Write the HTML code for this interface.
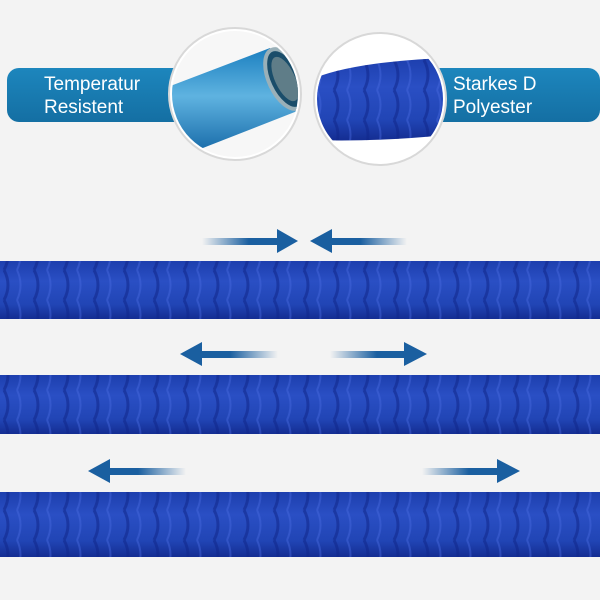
<!DOCTYPE html>
<html><head><style>
html,body{margin:0;padding:0;background:#f3f3f3;}
svg{display:block}
text{font-family:"Liberation Sans",sans-serif;}
</style></head><body>
<svg width="600" height="600" viewBox="0 0 600 600" xmlns="http://www.w3.org/2000/svg">
<defs>
<linearGradient id="ban" x1="0" y1="0" x2="0" y2="1"><stop offset="0" stop-color="#1d86bd"/><stop offset="1" stop-color="#146fa3"/></linearGradient>
<linearGradient id="pipe" x1="0" y1="0" x2="0" y2="1"><stop offset="0" stop-color="#1b7fc0"/><stop offset="0.45" stop-color="#5fb3e0"/><stop offset="1" stop-color="#1467a6"/></linearGradient>
<linearGradient id="hose" x1="0" y1="0" x2="0" y2="1"><stop offset="0" stop-color="#1d3fae"/><stop offset="0.35" stop-color="#2a4fc4"/><stop offset="0.75" stop-color="#2145b5"/><stop offset="1" stop-color="#142d92"/></linearGradient>
<linearGradient id="ar" x1="0" y1="0" x2="1" y2="0"><stop offset="0" stop-color="#1a5fa0" stop-opacity="0"/><stop offset="0.6" stop-color="#1a5fa0"/><stop offset="1" stop-color="#1a5fa0"/></linearGradient>
<linearGradient id="al" x1="1" y1="0" x2="0" y2="0"><stop offset="0" stop-color="#1a5fa0" stop-opacity="0"/><stop offset="0.6" stop-color="#1a5fa0"/><stop offset="1" stop-color="#1a5fa0"/></linearGradient>
<clipPath id="c1"><circle cx="235" cy="94" r="63"/></clipPath>
<clipPath id="c2"><circle cx="380" cy="99" r="63"/></clipPath>
<pattern id="ruf" width="30" height="30" patternUnits="userSpaceOnUse">
<path d="M4 0 Q12 15 4 30" stroke="#10268a" stroke-width="3" fill="none" opacity="0.55"/>
<path d="M17 0 Q24 15 17 30" stroke="#4668de" stroke-width="2" fill="none" opacity="0.45"/>
</pattern>
</defs>
<rect width="600" height="600" fill="#f3f3f3"/>
<rect x="7" y="68" width="190" height="54" rx="12" fill="url(#ban)"/>
<text x="44" y="90" font-size="19" fill="#fff">Temperatur</text>
<text x="44" y="113" font-size="19" fill="#fff">Resistent</text>
<rect x="420" y="68" width="180" height="54" rx="12" fill="url(#ban)"/>
<text x="453" y="90" font-size="19" fill="#fff">Starkes D</text>
<text x="453" y="113" font-size="19" fill="#fff">Polyester</text>
<circle cx="235" cy="94" r="66" fill="#fff" stroke="#d8d8d8" stroke-width="2"/>
<g clip-path="url(#c1)">
<rect x="160" y="30" width="150" height="130" fill="#f7f7f7"/>
<path d="M160 90 L270 48 L300 110 L185 155 Z" fill="url(#pipe)"/>
<ellipse cx="285" cy="79" rx="16" ry="32" transform="rotate(-25 285 79)" fill="#1a4d6a" stroke="#9ab0b8" stroke-width="4"/>
<ellipse cx="285" cy="79" rx="10" ry="24" transform="rotate(-25 285 79)" fill="#5f7d88"/>
</g>
<circle cx="380" cy="99" r="66" fill="#fff" stroke="#d8d8d8" stroke-width="2"/>
<g clip-path="url(#c2)">
<path d="M310 80 Q350 62 445 58 L445 135 Q380 142 310 140 Z" fill="url(#hose)"/>
<path d="M310 80 Q350 62 445 58 L445 135 Q380 142 310 140 Z" fill="url(#ruf)"/>
</g>
<rect x="0" y="261" width="600" height="58" fill="url(#hose)"/>
<rect x="0" y="261" width="600" height="58" fill="url(#ruf)"/>
<rect x="0" y="375" width="600" height="59" fill="url(#hose)"/>
<rect x="0" y="375" width="600" height="59" fill="url(#ruf)"/>
<rect x="0" y="492" width="600" height="65" fill="url(#hose)"/>
<rect x="0" y="492" width="600" height="65" fill="url(#ruf)"/>
<g>
<rect x="202" y="238" width="78" height="7" fill="url(#ar)"/><polygon points="277,229 298,241 277,253" fill="#1a5fa0"/>
<rect x="329" y="238" width="78" height="7" fill="url(#al)"/><polygon points="332,229 310,241 332,253" fill="#1a5fa0"/>
<rect x="198" y="351" width="80" height="7" fill="url(#al)"/><polygon points="202,342 180,354 202,366" fill="#1a5fa0"/>
<rect x="330" y="351" width="78" height="7" fill="url(#ar)"/><polygon points="404,342 427,354 404,366" fill="#1a5fa0"/>
<rect x="106" y="468" width="80" height="7" fill="url(#al)"/><polygon points="110,459 88,471 110,483" fill="#1a5fa0"/>
<rect x="422" y="468" width="78" height="7" fill="url(#ar)"/><polygon points="497,459 520,471 497,483" fill="#1a5fa0"/>
</g>
</svg>
</body></html>
